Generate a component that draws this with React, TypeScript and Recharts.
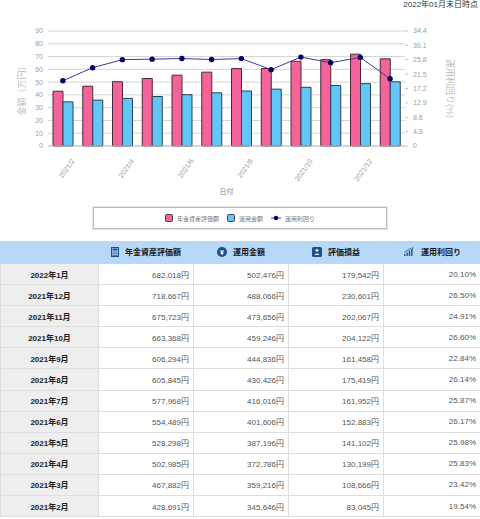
// modules
import { ComposedChart, Bar, Line, XAxis, YAxis, CartesianGrid, Label } from "recharts";


const months = ["2021/2", "2021/3", "2021/4", "2021/5", "2021/6", "2021/7", "2021/8", "2021/9", "2021/10", "2021/11", "2021/12", "2022/1"];
const tableMonths = ["2021年2月", "2021年3月", "2021年4月", "2021年5月", "2021年6月", "2021年7月", "2021年8月", "2021年9月", "2021年10月", "2021年11月", "2021年12月", "2022年1月"];

// yen
const assetValues = [428691, 467882, 502985, 528298, 554489, 577968, 605845, 606294, 663368, 675723, 718667, 682018];
const investedValues = [345646, 359216, 372786, 387196, 401606, 416016, 430426, 444836, 459246, 473656, 488066, 502476];
const profitValues = [83045, 108666, 130199, 141102, 152883, 161952, 175419, 161458, 204122, 202067, 230601, 179542];
// %
const yieldValues = [19.54, 23.42, 25.83, 25.98, 26.17, 25.87, 26.14, 22.84, 26.60, 24.91, 26.50, 20.10];

const leftTicks = [0, 10, 20, 30, 40, 50, 60, 70, 80, 90];
const rightTicks = [0, 4.3, 8.6, 12.9, 17.2, 21.5, 25.8, 30.1, 34.4];

const seriesNames = ["年金資産評価額", "運用金額", "運用利回り"];
const columnTitles = ["年金資産評価額", "運用金額", "評価損益", "運用利回り"];

const PINK = "#f4649a";
const BLUE = "#62c6f7";
const NAVY = "#3d3d8f";
const ICON = "#1f4e8c";
const FONT = "Arial, 'Liberation Sans', 'Noto Sans CJK JP', sans-serif";


const chartData = months.map((m, i) => ({
  month: m,
  asset: assetValues[i] / 10000,
  invested: investedValues[i] / 10000,
  rate: yieldValues[i],
}));


function DateTick({ x, y, payload }: any) {
  return (
    <text
      x={0}
      y={0}
      transform={`translate(${x + 12},${y + 7}) rotate(-55)`}
      textAnchor="end"
      fontSize={7}
      fill="#a0a0a0"
    >
      {payload.value}
    </text>
  );
}


function HeaderIcon({ index }: { index: number }) {
  if (index === 0)
    return (
      <svg width="8" height="10" viewBox="0 0 8 10">
        <rect x="0.5" y="0.5" width="7" height="9" fill="none" stroke={ICON} />
        <rect x="1.5" y="1.5" width="5" height="2" fill={ICON} />
        {[0, 1, 2].map(r => [0, 1, 2].map(c => (
          <rect key={`${r}-${c}`} x={1.5 + c * 1.8} y={4.5 + r * 1.7} width="1.2" height="1.1" fill={ICON} />
        )))}
      </svg>
    );
  if (index === 1)
    return (
      <svg width="10" height="10" viewBox="0 0 10 10">
        <circle cx="5" cy="5" r="5" fill={ICON} />
        <text x="5" y="7.8" textAnchor="middle" fontSize="7" fill="#fff" fontWeight="bold">¥</text>
      </svg>
    );
  if (index === 2)
    return (
      <svg width="10" height="10" viewBox="0 0 10 10">
        <rect x="0" y="0" width="10" height="10" rx="1.5" fill={ICON} />
        <path d="M5 1.8v3.2M3.4 3.4h3.2M3.2 7.4h3.6" stroke="#fff" strokeWidth="1.1" />
      </svg>
    );
  return (
    <svg width="12" height="10" viewBox="0 0 12 10">
      {[0, 1, 2, 3].map(i => (
        <rect key={i} x={1 + i * 2.4} y={9 - (i + 1) * 1.8} width="1.4" height={(i + 1) * 1.8} fill={ICON} />
      ))}
      <path d="M1 5.5 L8 1.2" stroke={ICON} strokeWidth="0.8" fill="none" />
      <path d="M8.6 0.6 L10.6 0.6 L9.6 2.4 Z" fill={ICON} />
    </svg>
  );
}


function LegendBox() {
  return (
    <div
      style={{
        position: "absolute",
        left: 93,
        top: 207,
        width: 292,
        height: 20,
        border: "1px solid #bdbdbd",
        boxShadow: "0 0 0 1px #e6e6e6",
        display: "flex",
        alignItems: "center",
        justifyContent: "center",
        gap: 4,
        fontSize: 6,
        color: "#777",
        fontFamily: FONT,
      }}
    >
      <span style={{ width: 6, height: 6, background: PINK, border: "1px solid #444", borderRadius: 1.5 }} />
      <span style={{ marginRight: 4 }}>{seriesNames[0]}</span>
      <span style={{ width: 6, height: 6, background: BLUE, border: "1px solid #444", borderRadius: 1.5 }} />
      <span style={{ marginRight: 4 }}>{seriesNames[1]}</span>
      <svg width="10" height="6" viewBox="0 0 10 6">
        <line x1="0" y1="3" x2="10" y2="3" stroke={NAVY} strokeWidth="1" />
        <circle cx="5" cy="3" r="2.2" fill="#000066" />
      </svg>
      <span>{seriesNames[2]}</span>
    </div>
  );
}


function ReportTable() {
  const rows = tableMonths.map((m, i) => ({
    month: m,
    cells: [
      `${assetValues[i].toLocaleString()}円`,
      `${investedValues[i].toLocaleString()}円`,
      `${profitValues[i].toLocaleString()}円`,
      `${yieldValues[i].toFixed(2)}%`,
    ],
  })).reverse();

  const colWidths = [98, 95, 95, 95, 97];

  return (
    <table
      style={{
        position: "absolute",
        left: 0,
        top: 241,
        width: 480,
        borderCollapse: "collapse",
        tableLayout: "fixed",
        fontFamily: FONT,
        fontSize: 8,
      }}
    >
      <colgroup>
        {colWidths.map((w, i) => <col key={i} style={{ width: w }} />)}
      </colgroup>
      <thead>
        <tr>
          <th style={{ background: "#b7d8f6", height: 21, padding: 0, border: "1px solid #b7d8f6" }} />
          {columnTitles.map((t, i) => (
            <th
              key={t}
              style={{
                background: "#b7d8f6",
                height: 21,
                padding: 0,
                border: "1px solid #b7d8f6",
                borderLeft: "1px solid #d6e8fa",
                color: "#1a1a1a",
                fontWeight: "bold",
              }}
            >
              <span style={{ display: "inline-flex", alignItems: "center", gap: 6 }}>
                <HeaderIcon index={i} />
                {t}
              </span>
            </th>
          ))}
        </tr>
      </thead>
      <tbody>
        {rows.map(r => (
          <tr key={r.month}>
            <td
              style={{
                background: "#eeeeee",
                height: 20.1,
                padding: 0,
                border: "1px solid #dedede",
                textAlign: "center",
                fontWeight: "bold",
                color: "#222",
              }}
            >
              {r.month}
            </td>
            {r.cells.map((c, j) => (
              <td
                key={j}
                style={{
                  background: "#fff",
                  height: 20.1,
                  padding: "0 4px 0 0",
                  border: "1px solid #dedede",
                  textAlign: "right",
                  color: "#555",
                }}
              >
                {c}
              </td>
            ))}
          </tr>
        ))}
      </tbody>
    </table>
  );
}


export default function App() {
  return (
    <div style={{ position: "absolute", left: 0, top: 0, width: 480, height: 519, overflow: "hidden", background: "#fff", fontFamily: FONT }}>
      <div style={{ position: "absolute", right: 2, top: 0, fontSize: 8, lineHeight: "9px", color: "#333" }}>
        2022年01月末日時点
      </div>
      <ComposedChart
        width={480}
        height={200}
        data={chartData}
        margin={{ top: 31, right: 35, bottom: 0, left: 8 }}
        barGap={0}
        style={{ fontFamily: FONT }}
      >
        <CartesianGrid yAxisId="left" vertical={false} stroke="#d4d4d4" />
        <XAxis
          dataKey="month"
          interval={1}
          tick={<DateTick />}
          tickLine={false}
          axisLine={{ stroke: "#c4c4c4" }}
          height={54}
        >
          <Label value="日付" position="insideBottom" offset={6} fontSize={7} fill="#888" />
        </XAxis>
        <YAxis
          yAxisId="left"
          domain={[0, 90]}
          ticks={leftTicks}
          interval={0}
          width={40}
          axisLine={false}
          tickLine={false}
          tickSize={3}
          tick={{ fontSize: 7, fill: "#a0a0a0" }}
        >
          <Label value="金額（万円）" angle={-90} position="center" dx={-6} fontSize={9} fill="#c0c0c0" />
        </YAxis>
        <YAxis
          yAxisId="right"
          orientation="right"
          domain={[0, 34.4]}
          ticks={rightTicks}
          interval={0}
          width={40}
          axisLine={false}
          tickLine={{ stroke: "#c4c4c4" }}
          tickSize={3}
          tickMargin={5}
          tick={{ fontSize: 7, fill: "#a0a0a0" }}
        >
          <Label value="運用利回り(%)" angle={90} position="center" dx={25} fontSize={9} fill="#c0c0c0" />
        </YAxis>
        <Bar yAxisId="left" dataKey="asset" name={seriesNames[0]} fill={PINK} stroke="#4a2a36" strokeWidth={1} barSize={10} isAnimationActive={false} />
        <Bar yAxisId="left" dataKey="invested" name={seriesNames[1]} fill={BLUE} stroke="#2d4150" strokeWidth={1} barSize={10} isAnimationActive={false} />
        <Line
          yAxisId="right"
          dataKey="rate"
          name={seriesNames[2]}
          stroke={NAVY}
          strokeWidth={1}
          dot={{ r: 2.7, fill: "#000066", stroke: "none" }}
          isAnimationActive={false}
        />
      </ComposedChart>
      <LegendBox />
      <ReportTable />
    </div>
  );
}
